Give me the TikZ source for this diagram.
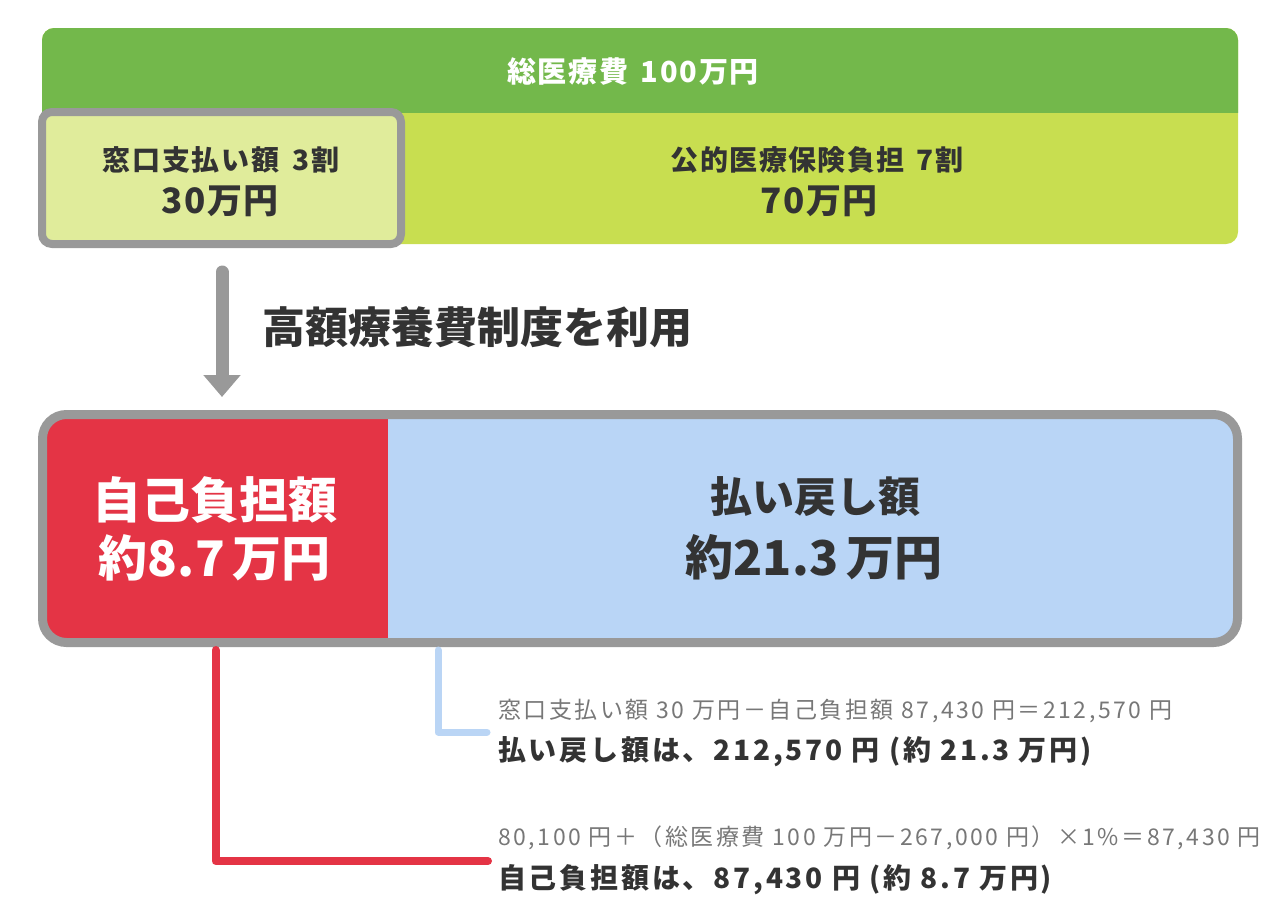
\documentclass[tikz,border=0pt]{standalone}
\usepackage{fontspec}
\usetikzlibrary{arrows.meta}
\newfontfamily\jp{Noto Sans CJK JP}
\definecolor{topgreen}{HTML}{73B84B}
\definecolor{lime}{HTML}{C8DE50}
\definecolor{palelime}{HTML}{E0EC9B}
\definecolor{bordergray}{HTML}{999999}
\definecolor{selfred}{HTML}{E43445}
\definecolor{refblue}{HTML}{B9D5F6}
\definecolor{conblue}{HTML}{BAD5F5}
\definecolor{darktext}{HTML}{333333}
\definecolor{graytext}{HTML}{777777}
\newcommand{\fs}[2]{\fontsize{#1}{#1}\selectfont\addfontfeature{LetterSpace=#2}}
\tikzset{
  txt/.style={inner sep=0pt, text=darktext},
  wtxt/.style={inner sep=0pt, text=white},
  formula/.style={inner sep=0pt, anchor=west, text=graytext, font=\jp\fs{23}{11}},
  result/.style={inner sep=0pt, anchor=west, text=darktext, font=\jp\bfseries\fs{28}{10}},
  conn/.style={line width=8pt, line cap=round, line join=round}
}
\begin{document}
\begin{tikzpicture}[x=1pt,y=-1pt]
\useasboundingbox (0,0) rectangle (1280,910);
% top bar
\fill[lime, rounded corners=12pt] (42,28) rectangle (1238,244);
\begin{scope}
\clip (0,0) rectangle (1280,112);
\fill[topgreen, rounded corners=12pt] (42,28) rectangle (1238,244);
\end{scope}
\node[wtxt, font=\jp\bfseries\fs{29}{6}] (total) at (633,72) {総医療費\hspace{4pt} 100万円};
% window box
\node[draw=bordergray, line width=8pt, fill=palelime, rounded corners=10pt, outer sep=0pt,
      minimum width=359pt, minimum height=132pt, inner sep=0pt, anchor=north west] (window) at (42,112) {};
\node[txt, font=\jp\bfseries\fs{28}{6}] (win1) at (221,160) {窓口支払い額\hspace{5pt} 3割};
\node[txt, font=\jp\bfseries\fs{35}{4}] (win2) at (220,201) {30万円};
\node[txt, font=\jp\bfseries\fs{28}{5}] (pub1) at (817,160) {公的医療保険負担\hspace{4pt} 7割};
\node[txt, font=\jp\bfseries\fs{35}{4}] (pub2) at (819,201) {70万円};
% arrow
\coordinate (arrS) at (222,272);
\coordinate (arrE) at (222,397);
\draw[bordergray, line width=13pt, line cap=round, -{Triangle[width=36pt,length=22pt]}] (arrS) -- (arrE);
\node[txt, anchor=west, font=\jp\bfseries\fs{43}{0}] (use) at (262,327) {高額療養費制度を利用};
% big box
\node[draw=bordergray, line width=9pt, fill=refblue, rounded corners=24pt, outer sep=0pt,
      minimum width=1195pt, minimum height=228pt, inner sep=0pt, anchor=north west,
      path picture={\fill[selfred, sharp corners] (path picture bounding box.north west) rectangle
        ([xshift=345.5pt]path picture bounding box.south west);}] (bigbox) at (42.5,414.5) {};
\node[wtxt, font=\jp\bfseries\fs{49}{0}] (self1) at (215,500) {自己負担額};
\node[wtxt, font=\jp\bfseries\fs{49}{0}] (self2) at (215,558) {約8.7\,万円};
\node[txt, font=\jp\bfseries\fs{42}{0}] (ref1) at (815,497) {払い戻し額};
\node[txt, font=\jp\bfseries\fs{48}{0}] (ref2) at (814,557) {約21.3\,万円};
% connectors
\coordinate (blueS) at (438,650);
\coordinate (blueE) at (487,732);
\draw[conn, conblue, line width=7pt] (blueS) |- (blueE);
\coordinate (redS) at (215.5,650);
\coordinate (redE) at (488,861);
\draw[conn, selfred] (redS) |- (redE);
% bottom texts
\node[formula] (f1) at (498,711) {窓口支払い額 30 万円－自己負担額 87,430 円＝212,570 円};
\node[result] (r1) at (498,752) {払い戻し額は、212,570 円 (約 21.3 万円)};
\node[formula] (f2) at (498,838) {80,100 円＋（総医療費 100 万円－267,000 円）×1\%＝87,430 円};
\node[result] (r2) at (498,880) {自己負担額は、87,430 円 (約 8.7 万円)};
\end{tikzpicture}
\end{document}
